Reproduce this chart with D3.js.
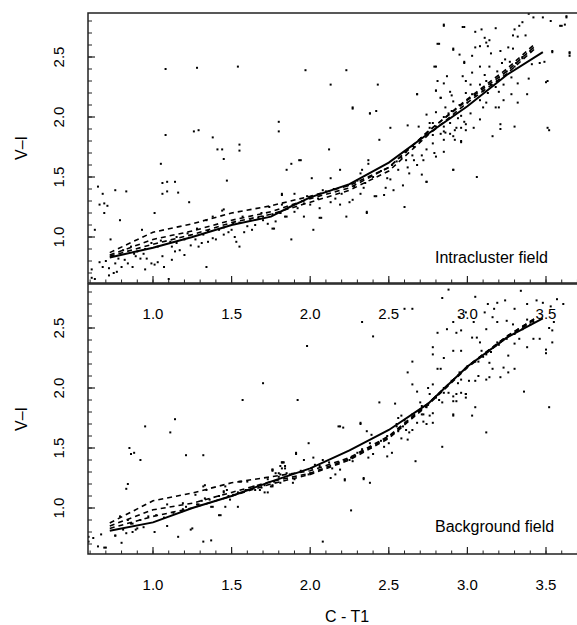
<!DOCTYPE html>
<html>
<head>
<meta charset="utf-8">
<script src="https://cdn.jsdelivr.net/npm/d3@7"></script>
<style>
html,body{margin:0;padding:0;background:#fff;}
svg{display:block;font-family:"Liberation Sans",Arial,Helvetica,sans-serif;}
</style>
</head>
<body>
<svg id="chart" width="577" height="625"></svg>
<script>
// ---------- DATA ----------
const xMajorTicks = [1.0, 1.5, 2.0, 2.5, 3.0, 3.5];
const yMajorTicks = [1.0, 1.5, 2.0, 2.5];
const xTickLabels = ["1.0", "1.5", "2.0", "2.5", "3.0", "3.5"];
const yTickLabels = ["1.0", "1.5", "2.0", "2.5"];
const xTitle = "C - T1";
const yTitle = "V\u2013I";
const panelLabels = ["Intracluster field", "Background field"];

const topSolid = [[0.725,0.83],[1.0,0.91],[1.25,1.0],[1.5,1.1],[1.75,1.17],[1.87,1.25],[2.0,1.33],[2.25,1.44],[2.5,1.62],[2.75,1.86],[3.0,2.09],[3.25,2.35],[3.48,2.54]];
const topDash1 = [[0.725,0.87],[1.0,1.04],[1.25,1.11],[1.5,1.20],[1.75,1.26],[2.0,1.34],[2.25,1.43],[2.5,1.58],[2.75,1.88],[3.0,2.15],[3.25,2.40],[3.43,2.61]];
const topDash2 = [[0.725,0.85],[1.0,0.98],[1.25,1.05],[1.5,1.14],[1.75,1.21],[2.0,1.32],[2.25,1.41],[2.5,1.58],[2.75,1.88],[3.0,2.14],[3.25,2.38],[3.43,2.59]];
const topDash3 = [[0.725,0.84],[1.0,0.94],[1.25,1.02],[1.5,1.12],[1.75,1.19],[2.0,1.29],[2.25,1.39],[2.5,1.55],[2.75,1.85],[3.0,2.12],[3.25,2.36],[3.43,2.57]];

const botSolid = [[0.725,0.81],[1.0,0.88],[1.25,1.0],[1.5,1.10],[1.75,1.22],[2.0,1.33],[2.25,1.48],[2.5,1.65],[2.75,1.87],[3.0,2.18],[3.25,2.42],[3.48,2.58]];
const botDash1 = [[0.725,0.875],[1.0,1.06],[1.25,1.125],[1.5,1.21],[1.75,1.26],[2.0,1.31],[2.25,1.42],[2.5,1.60],[2.75,1.87],[3.0,2.18],[3.25,2.43],[3.43,2.58]];
const botDash2 = [[0.725,0.85],[1.0,0.985],[1.25,1.04],[1.5,1.13],[1.75,1.22],[2.0,1.29],[2.25,1.41],[2.5,1.59],[2.75,1.87],[3.0,2.18],[3.25,2.43],[3.43,2.58]];
const botDash3 = [[0.725,0.83],[1.0,0.93],[1.25,1.0],[1.5,1.10],[1.75,1.20],[2.0,1.28],[2.25,1.40],[2.5,1.58],[2.75,1.86],[3.0,2.17],[3.25,2.42],[3.43,2.57]];

const topPoints = [
[1.08,2.40],[1.28,2.41],[1.54,2.42],
[1.08,1.85],[1.26,1.88],[1.29,1.89],[1.38,1.83],[1.41,1.73],[1.44,1.73],[1.55,1.77],[1.55,1.72],[1.45,1.65],[1.80,1.96],[1.80,1.88],[1.85,1.56],[1.88,1.61],[1.93,1.64],
[1.05,1.61],[1.47,1.47],[1.06,1.45],[1.09,1.46],[1.14,1.46],[1.06,1.36],[1.09,1.38],[1.16,1.37],[1.23,1.29],[1.01,1.20],[0.65,1.42],[0.68,1.36],[0.66,1.27],[0.69,1.28],[0.71,1.26],[0.69,1.20],[0.76,1.39],[0.83,1.38],[0.63,1.06],[0.79,1.14],[0.73,0.98],[1.44,1.22],[1.82,1.36],[1.90,1.36],[1.77,1.07],[1.88,0.98],[1.34,0.75],[1.10,0.65],
[0.61,0.66],[0.63,0.65],[0.66,0.79],[0.68,0.75],[0.70,0.80],[0.72,0.74],[0.75,0.70],[0.77,0.71],[0.72,0.68],[0.61,0.73],[0.80,0.75],[0.82,0.81],[0.84,0.78],[0.87,0.75],[0.89,0.84],[0.92,0.82],[0.94,0.86],[0.96,0.82],[0.95,0.73],[0.99,0.78],[1.01,0.77],[1.03,0.79],[1.06,0.84],[1.07,0.75],[1.12,0.81],[1.14,0.88],[1.17,0.89],[1.20,0.85],[1.24,0.93],[1.27,0.98],[1.29,0.92],[1.31,0.95],[1.32,1.02],[1.35,0.96],[1.38,0.99],[1.40,0.98],[1.42,1.06],[1.45,1.02],[1.48,1.04],[1.52,1.00],[1.53,0.96],[1.55,0.92],[1.58,1.04],[1.60,1.09],[1.63,1.06],[1.65,1.10],[1.67,1.16],[1.69,1.20],[1.70,1.14],[1.73,1.11],[1.76,1.07],[1.78,1.13],[1.81,1.20],[1.82,1.27],[1.84,1.17],[1.22,1.03],[1.15,1.00],[1.11,0.96],[1.03,0.92],[0.99,0.95],[0.90,0.88],[0.86,0.92],[0.81,0.89],[1.12,0.92],[1.20,0.98],[1.28,1.07],[1.34,1.14],[1.38,1.17],[1.45,1.23],[1.50,1.06],[1.51,1.11],[1.57,1.17],[0.93,1.06],
[0.95,0.90],[1.05,0.97],[1.15,0.95],[1.35,1.05],[1.45,1.08],[1.55,1.12],[1.62,1.14],[1.70,1.17],[1.76,1.19],[0.88,0.86],[0.78,0.82],[0.76,0.78],
[2.27,2.08],[2.38,2.03],[2.42,2.05],[2.68,2.19],[2.80,2.22],[2.83,2.16],[2.90,2.18],[2.86,2.08],[2.74,2.02],
[2.51,1.91],[2.62,1.93],[2.69,1.92],[2.76,1.95],[2.80,1.92],[2.85,1.88],[2.89,1.86],[2.92,1.89],[2.96,1.91],[2.99,1.89],[2.96,1.79],[2.92,1.81],[2.85,1.81],[2.78,1.78],[2.74,1.73],[2.79,1.70],[2.85,1.71],[2.80,1.67],[2.72,1.64],[2.66,1.64],[2.61,1.64],[2.68,1.60],[2.63,1.53],[2.71,1.52],[2.74,1.46],[2.91,1.56],[2.59,1.43],[2.56,1.56],[2.55,1.63],[2.44,1.81],[2.12,1.73],[1.94,1.64],[2.19,1.56],[2.01,1.49],[2.13,1.49],[2.37,1.64],[2.37,1.61],[2.33,1.56],[2.32,1.53],[2.24,1.43],[2.49,1.49],[2.51,1.48],[2.48,1.41],[2.53,1.39],[2.47,1.35],[2.42,1.34],[2.34,1.41],[2.32,1.36],[2.27,1.31],[2.25,1.29],[2.19,1.27],[2.16,1.32],[2.13,1.29],[2.08,1.39],[2.06,1.24],[2.23,1.17],[2.36,1.20],[2.60,1.25],[2.41,1.34],[1.82,1.35],[1.74,1.25],[1.81,1.20],[1.90,1.21],[1.96,1.28],[2.00,1.27],[2.06,1.16],[1.85,1.17],[1.96,1.17],[2.61,1.71],[2.65,1.68],[2.71,1.68],[2.76,1.91],[2.83,1.86],[2.89,1.95],[2.94,1.99],[2.98,1.96],
[2.05,1.32],[2.10,1.38],[2.15,1.40],[2.20,1.36],[2.28,1.42],[2.30,1.47],[2.35,1.45],[2.40,1.50],[2.45,1.55],[2.52,1.60],[2.58,1.66],[2.62,1.58],[2.66,1.75],[2.70,1.80],[2.78,1.85],[1.95,1.30],[1.92,1.24],[1.98,1.34],
[2.85,2.76],[2.98,2.75],[3.05,2.71],[3.09,2.73],[3.18,2.74],[3.39,2.86],[3.42,2.83],[3.48,2.83],[3.53,2.80],[3.59,2.76],[3.62,2.77],[3.63,2.83],[3.30,2.73],[3.33,2.76],[3.35,2.79],[3.29,2.68],[3.32,2.67],[3.37,2.68],[3.11,2.66],[3.14,2.64],[3.13,2.59],[3.12,2.62],[2.82,2.61],[2.91,2.57],[3.05,2.58],[3.08,2.59],[3.15,2.53],[3.21,2.55],[3.26,2.58],[3.29,2.57],[3.03,2.51],[2.95,2.52],[2.80,2.42],[2.98,2.45],[3.08,2.42],[3.14,2.42],[3.19,2.38],[3.22,2.45],[3.24,2.48],[3.27,2.46],[3.31,2.45],[3.35,2.49],[3.46,2.45],[3.41,2.44],[3.49,2.46],[3.54,2.55],[3.65,2.53],[3.65,2.51],
[2.87,2.34],[2.81,2.30],[2.85,2.28],[2.97,2.34],[2.99,2.30],[3.02,2.27],[3.03,2.37],[3.08,2.27],[3.11,2.35],[3.19,2.30],[3.23,2.27],[3.28,2.33],[3.32,2.28],[3.39,2.32],[3.51,2.30],[2.80,2.22],[2.89,2.21],[2.99,2.20],[3.03,2.19],[3.13,2.20],[3.20,2.21],[3.28,2.19],[3.38,2.19],[2.83,2.16],[2.91,2.13],[3.08,2.14],[3.12,2.12],[3.23,2.14],[3.32,2.12],[2.80,2.04],[2.88,2.03],[2.96,2.01],[3.02,2.03],[3.10,2.08],[3.18,2.08],[3.20,2.08],[2.78,1.95],[2.85,1.92],[2.93,1.91],[2.99,1.94],[3.04,1.91],[3.08,1.98],[3.21,1.94],[3.21,1.90],[3.30,1.92],[3.52,1.89],[2.86,1.87],[2.91,1.84],[2.96,1.80],[3.16,1.84],
[2.90,2.05],[2.95,2.10],[3.00,2.12],[3.05,2.18],[3.10,2.22],[3.15,2.27],[3.20,2.33],[3.25,2.38],[3.30,2.42],[3.35,2.50],[3.40,2.55],[2.85,2.00],[3.18,2.25],[3.12,2.30],
[3.65,2.54],[3.63,2.84],[3.60,2.76],[3.51,1.91],[3.50,2.29],[3.54,2.54],[3.06,1.50],[2.91,1.56],[2.74,1.46],[2.85,2.77],[2.97,2.75],[2.81,2.61],[2.79,2.42],[2.91,2.56],[2.98,2.46],[2.68,2.19],[2.27,2.07],[2.38,2.03],[2.43,2.27],[2.13,2.27],[1.97,2.39],[2.23,2.39],[2.02,1.06],[2.36,1.21],[2.07,1.16]
];

const botPoints = [
[0.95,1.68],[1.14,1.74],[1.11,1.63],[0.85,1.50],[0.86,1.45],[0.88,1.46],[0.92,1.40],[0.84,1.20],[0.83,1.16],[1.21,1.44],[1.32,1.44],[1.57,1.90],[1.70,2.04],[1.92,1.90],[1.91,1.46],
[0.59,0.76],[0.62,0.75],[0.67,0.78],[0.65,0.68],[0.70,0.67],[0.59,0.72],[0.80,0.71],[0.76,0.77],[0.83,0.79],[0.87,0.80],[0.90,0.83],[0.94,0.84],[1.01,0.80],[1.09,0.85],[1.16,0.76],[1.25,0.83],[1.32,0.72],[1.37,0.73],[1.43,0.94],[1.54,1.01],[0.87,0.87],[0.92,0.90],[0.97,0.93],[1.02,0.94],[1.07,0.92],[1.13,0.96],[1.19,0.99],[1.21,1.01],[1.28,1.03],[1.31,1.06],[1.36,1.07],[1.38,1.01],[1.42,1.10],[1.45,1.13],[1.49,1.07],[1.51,1.11],[1.60,1.15],[1.64,1.18],[1.68,1.15],[1.71,1.13],[1.73,1.24],[1.75,1.18],[1.78,1.29],[1.80,1.26],[1.82,1.33],[1.83,1.38],[1.85,1.29],[1.89,1.21],[1.32,1.18],[1.34,1.15],[1.27,1.11],[1.55,1.22],[1.47,1.15],
[1.76,1.32],[1.82,1.38],[1.80,1.29],[1.84,1.35],[1.73,1.13],[1.76,1.18],[1.69,1.17],[1.65,1.15],[1.56,1.22],[1.46,1.18],[1.46,1.01],[1.42,0.94],[1.24,0.82],[0.69,0.67],[0.76,0.77],[0.89,0.82],[0.86,0.87],[0.84,0.90],[0.79,0.93],[0.81,0.82],[1.09,1.03],[1.18,0.97],[1.19,1.04],[1.29,1.03],[1.33,1.08],[1.37,1.01],[1.33,1.19],[1.45,1.14],[1.48,1.10],[1.54,1.13],[1.59,1.15],[1.60,1.22],[1.71,1.19],[1.76,1.31],[1.77,1.22],[1.81,1.21],
[1.99,1.54],[1.91,1.45],[2.02,1.42],[2.03,1.36],[1.81,1.35],[1.83,1.38],[1.84,1.33],[1.76,1.32],[1.87,1.28],[1.94,1.31],[1.99,1.28],[2.01,1.33],[2.06,1.35],[2.12,1.38],[2.14,1.33],[2.18,1.38],[2.19,1.32],[2.16,1.28],[2.25,1.40],[2.27,1.39],[2.33,1.49],[2.37,1.42],[2.40,1.45],[2.47,1.51],[2.49,1.43],[2.50,1.54],[2.52,1.46],[2.22,1.24],[2.34,1.25],[2.19,1.68],[2.21,1.67],[2.32,1.71],[2.36,1.64],[2.39,1.61],[2.44,1.88],[2.54,1.87],[2.56,1.75],[2.58,1.77],[2.59,1.68],[2.61,1.65],[2.56,1.64],[2.58,1.58],[2.62,1.57],[2.63,1.63],[2.65,1.65],[2.68,1.71],[2.71,1.78],[2.72,1.72],[2.74,1.70],[2.76,1.77],[2.78,1.79],[2.78,1.71],[2.67,1.39],[2.70,1.88],[2.71,1.85],[2.74,1.84],[2.76,1.95],[2.80,1.92],[2.84,1.88],[2.85,1.96],[2.88,1.96],[2.91,1.93],[2.91,1.78],[2.93,1.89],[2.94,2.04],[2.96,1.96],[2.99,1.95],[2.99,1.92],[2.65,2.03],[2.68,1.97],[2.62,2.13],[2.65,2.22],[2.78,2.03],[2.75,2.00],[2.81,2.16],[2.84,1.51],[2.38,1.21],[1.76,1.19],[1.81,1.28],[1.90,1.24],[1.96,1.40],[2.00,1.29],[2.08,1.40],[2.13,1.25],[2.26,1.42],[2.30,1.46],[2.38,1.54],[2.45,1.56],[2.49,1.60],[2.55,1.70],
[1.98,2.35],[2.33,2.55],[2.40,2.43],[2.18,1.68],[2.32,1.70],[2.22,1.23],[2.34,1.24],[2.26,0.98],[2.08,0.72],[1.82,1.38],
[2.88,2.82],[2.84,2.75],[2.65,2.66],[2.60,2.66],[3.05,2.76],[2.91,2.55],[2.93,2.46],[2.87,2.49],[2.81,2.46],[2.78,2.34],[2.78,2.28],[2.83,2.16],[2.85,2.25],[2.91,2.31],[2.96,2.31],[3.06,2.42],[3.08,2.38],[3.09,2.31],[3.07,2.22],[3.12,2.28],[3.14,2.21],[3.19,2.38],[3.11,2.63],[3.13,2.70],[3.17,2.66],[3.19,2.71],[3.24,2.73],[3.30,2.66],[3.34,2.81],[3.38,2.70],[3.44,2.73],[3.48,2.71],[3.53,2.68],[3.57,2.74],[3.61,2.70],[3.55,2.55],[3.52,2.50],[3.54,2.48],[3.54,2.38],[3.50,2.32],[3.50,2.29],[3.46,2.41],[3.42,2.41],[3.38,2.34],[3.33,2.41],[3.30,2.37],[3.26,2.27],[3.30,2.16],[3.26,2.13],[3.23,2.17],[3.21,2.09],[3.14,2.09],[3.12,2.07],[3.07,2.10],[3.05,2.06],[3.01,2.06],[2.96,2.07],[2.99,1.95],[2.93,1.95],[2.91,1.89],[2.91,1.77],[3.03,1.77],[3.05,1.84],[3.12,1.63],[3.36,1.97],[3.52,1.84],[3.25,2.56],[3.29,2.53],[3.38,2.57],[3.37,2.52],[3.42,2.55],[3.19,2.55],[3.16,2.59],[3.12,2.49],[3.04,2.55],[2.99,2.63],[2.95,2.59],[2.96,2.48],[3.03,2.42],[3.16,2.16],
[2.55,1.68],[2.60,1.73],[2.65,1.78],[2.70,1.82],[2.75,1.86],[2.80,1.93],[2.85,2.00],[2.90,2.06],[2.95,2.13],[3.00,2.18],[3.05,2.22],[3.10,2.26],[3.15,2.30],[3.20,2.36],[3.25,2.41],[3.30,2.45],[3.35,2.49],[3.40,2.53],[2.72,1.78],[2.82,1.90]
];

// ---------- LAYOUT ----------
const svg = d3.select("#chart");
const left = 88, right = 606;
const x = d3.scaleLinear().domain([0.5865, 1 + (right - 153) / 157.2]).range([left, right]);
const yDomain = [0.6167, 2.8667];
const panels = [
  {top: 13, bottom: 283, pts: topPoints, solid: topSolid, dashes: [topDash1, topDash2, topDash3], label: panelLabels[0], labelY: 263, xLabY: 319},
  {top: 284, bottom: 554, pts: botPoints, solid: botSolid, dashes: [botDash1, botDash2, botDash3], label: panelLabels[1], labelY: 532, xLabY: 590}
];
const xMinor = d3.range(6, 39).map(d => d / 10);
const yMinor = d3.range(7, 29).map(d => d / 10);
const frameColor = "#222";

panels.forEach((p, i) => {
  const y = d3.scaleLinear().domain(yDomain).range([p.bottom, p.top]);
  const clipId = "clip" + i;
  svg.append("clipPath").attr("id", clipId).append("rect")
    .attr("x", left).attr("y", p.top).attr("width", right - left).attr("height", p.bottom - p.top);
  const g = svg.append("g");
  const plot = g.append("g").attr("clip-path", `url(#${clipId})`);

  plot.selectAll("rect.pt").data(p.pts).enter().append("rect")
    .attr("class", "pt")
    .attr("x", d => x(d[0]) - 1).attr("y", d => y(d[1]) - 1)
    .attr("width", 2).attr("height", 2).attr("fill", "#000");

  const line = d3.line().x(d => x(d[0])).y(d => y(d[1]));
  p.dashes.forEach(ds => {
    plot.append("path").attr("d", line(ds)).attr("fill", "none")
      .attr("stroke", "#000").attr("stroke-width", 1.6).attr("stroke-dasharray", "5,4");
  });
  plot.append("path").attr("d", line(p.solid)).attr("fill", "none")
    .attr("stroke", "#000").attr("stroke-width", 2);

  // frame: top, left, bottom
  g.append("path")
    .attr("d", `M${right},${p.top}H${left}V${p.bottom}H${right}`)
    .attr("fill", "none").attr("stroke", frameColor).attr("stroke-width", 1.5);

  // x ticks (inward, on bottom)
  g.selectAll("line.xm").data(xMinor).enter().append("line")
    .attr("x1", d => x(d)).attr("x2", d => x(d))
    .attr("y1", p.bottom).attr("y2", p.bottom - 3.5)
    .attr("stroke", frameColor).attr("stroke-width", 1);
  g.selectAll("line.xM").data(xMajorTicks).enter().append("line")
    .attr("x1", d => x(d)).attr("x2", d => x(d))
    .attr("y1", p.bottom).attr("y2", p.bottom - 7)
    .attr("stroke", frameColor).attr("stroke-width", 1.2);
  // y ticks (inward, on left)
  g.selectAll("line.ym").data(yMinor).enter().append("line")
    .attr("x1", left).attr("x2", left + 4)
    .attr("y1", d => y(d)).attr("y2", d => y(d))
    .attr("stroke", frameColor).attr("stroke-width", 1);
  g.selectAll("line.yM").data(yMajorTicks).enter().append("line")
    .attr("x1", left).attr("x2", left + 7)
    .attr("y1", d => y(d)).attr("y2", d => y(d))
    .attr("stroke", frameColor).attr("stroke-width", 1.2);

  // x tick labels
  g.selectAll("text.xl").data(xMajorTicks).enter().append("text")
    .attr("x", d => x(d)).attr("y", p.xLabY)
    .attr("text-anchor", "middle").attr("font-size", 15).attr("fill", "#000")
    .text((d, k) => xTickLabels[k]);
  // y tick labels (rotated)
  g.selectAll("text.yl").data(yMajorTicks).enter().append("text")
    .attr("transform", d => `translate(64,${y(d)}) rotate(-90)`)
    .attr("text-anchor", "middle").attr("font-size", 15).attr("fill", "#000")
    .text((d, k) => yTickLabels[k]);
  // y title
  g.append("text")
    .attr("transform", `translate(26.5,${(p.top + p.bottom) / 2}) rotate(-90)`)
    .attr("text-anchor", "middle").attr("font-size", 16).attr("fill", "#000")
    .text(yTitle);
  // panel label
  g.append("text").attr("x", 435).attr("y", p.labelY)
    .attr("font-size", 16).attr("fill", "#000").text(p.label);
});

svg.append("text").attr("x", 347).attr("y", 622)
  .attr("text-anchor", "middle").attr("font-size", 16).attr("fill", "#000").text(xTitle);
</script>
</body>
</html>
